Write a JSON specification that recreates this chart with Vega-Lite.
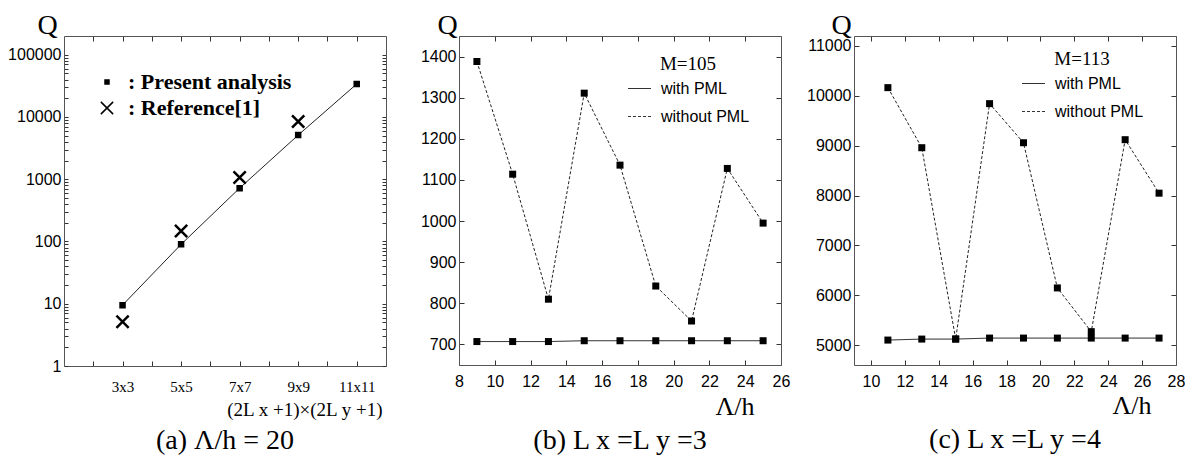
{
  "$schema": "https://vega.github.io/schema/vega-lite/v6.json",
  "padding": {"left": 7, "top": 11, "right": 0, "bottom": 0},
  "background": "white",
  "bounds": "flush",
  "spacing": 73,
  "resolve": {"scale": {"strokeDash": "independent", "shape": "independent", "size": "independent"},
              "legend": {"strokeDash": "independent", "shape": "independent", "size": "independent"}},
  "config": {
    "view": {"stroke": null},
    "axis": {
      "grid": false, "domainColor": "#555", "domainWidth": 1, "tickColor": "#333", "tickWidth": 1,
      "labelColor": "black", "labelFont": "Liberation Sans", "labelFontSize": 16,
      "labelFlush": false, "labelOverlap": false, "format": "d",
      "titleFont": "Liberation Serif", "titleFontWeight": "normal", "titleColor": "black"
    },
    "legend": {"padding": 0, "labelColor": "black", "titleColor": "black", "labelLimit": 0},
    "title": {"font": "Liberation Serif", "fontSize": 28, "fontWeight": "normal", "color": "black"}
  },
  "hconcat": [
    {
      "width": 322, "height": 330,
      "title": {"text": "(a) Λ/h = 20", "orient": "bottom", "offset": 8},
      "data": {"values": [
        {"series": "Present analysis", "n": 3, "q": 9.5},
        {"series": "Present analysis", "n": 5, "q": 90},
        {"series": "Present analysis", "n": 7, "q": 720},
        {"series": "Present analysis", "n": 9, "q": 5120},
        {"series": "Present analysis", "n": 11, "q": 33900},
        {"series": "Reference[1]", "n": 3, "q": 5.15},
        {"series": "Reference[1]", "n": 5, "q": 148},
        {"series": "Reference[1]", "n": 7, "q": 1070},
        {"series": "Reference[1]", "n": 9, "q": 8500}
      ]},
      "resolve": {"axis": {"x": "independent", "y": "independent"}},
      "layer": [
        {
          "transform": [{"filter": "datum.series == 'Present analysis'"}],
          "mark": {"type": "line", "color": "#222", "strokeWidth": 1},
          "encoding": {
            "x": {"field": "n", "type": "quantitative",
              "scale": {"domain": [1, 12], "nice": false, "zero": false},
              "axis": {"orient": "bottom", "values": [2,3,4,5,6,7,8,9,10,11], "tickSize": -5,
                "labelFont": "Liberation Serif", "labelFontSize": 15, "labelPadding": 18,
                "labelExpr": "datum.value % 2 == 1 ? datum.value + 'x' + datum.value : ''",
                "title": "(2L x +1)×(2L y +1)", "titleFontSize": 19, "titleX": 318, "titleY": 49,
                "titleAlign": "right", "titleBaseline": "alphabetic", "titleAngle": 0}},
            "y": {"field": "q", "type": "quantitative",
              "scale": {"type": "log", "domain": [1, 200000], "nice": false},
              "axis": {"orient": "left",
                "values": [1,2,3,4,5,6,7,8,9,10,20,30,40,50,60,70,80,90,100,200,300,400,500,600,700,800,900,1000,2000,3000,4000,5000,6000,7000,8000,9000,10000,20000,30000,40000,50000,60000,70000,80000,90000,100000],
                "tickSize": -4, "labelPadding": 7,
                "labelExpr": "indexof([1,10,100,1000,10000,100000], datum.value) >= 0 ? format(datum.value, 'd') : ''",
                "title": "Q", "titleAngle": 0, "titleX": -17, "titleY": -3, "titleAlign": "center",
                "titleBaseline": "alphabetic", "titleFontSize": 28}}
          }
        },
        {
          "mark": {"type": "point", "filled": true, "fill": "black", "stroke": "black", "strokeWidth": 2.5, "opacity": 1},
          "encoding": {
            "x": {"field": "n", "type": "quantitative",
              "axis": {"orient": "top", "values": [2,3,4,5,6,7,8,9,10,11], "tickSize": -5, "labels": false, "title": null}},
            "y": {"field": "q", "type": "quantitative",
              "axis": {"orient": "right",
                "values": [1,2,3,4,5,6,7,8,9,10,20,30,40,50,60,70,80,90,100,200,300,400,500,600,700,800,900,1000,2000,3000,4000,5000,6000,7000,8000,9000,10000,20000,30000,40000,50000,60000,70000,80000,90000,100000],
                "tickSize": -4, "labels": false, "title": null}},
            "shape": {"field": "series", "type": "nominal",
              "scale": {"domain": ["Present analysis", "Reference[1]"], "range": ["square", "M-1,-1L1,1M-1,1L1,-1"]},
              "legend": {"title": null, "orient": "none", "legendX": 32, "legendY": 35,
                "labelFont": "Liberation Serif", "labelFontSize": 22, "labelFontWeight": "bold", "labelLimit": 0,
                "labelOffset": 10, "rowPadding": 4, "labelExpr": "':  ' + datum.label",
                "encode": {"symbols": {"update": {"fill": {"value": "black"}, "stroke": {"value": "black"}, "strokeWidth": {"value": 2.5}, "opacity": {"value": 1}}}}}},
            "size": {"field": "series", "type": "nominal",
              "scale": {"domain": ["Present analysis", "Reference[1]"], "range": [16, 150]},
              "legend": {"title": null, "orient": "none", "legendX": 32, "legendY": 35,
                "labelFont": "Liberation Serif", "labelFontSize": 22, "labelFontWeight": "bold", "labelLimit": 0,
                "labelOffset": 10, "rowPadding": 4, "labelExpr": "':  ' + datum.label",
                "encode": {"symbols": {"update": {"fill": {"value": "black"}, "stroke": {"value": "black"}, "strokeWidth": {"value": 2.5}, "opacity": {"value": 1}}}}}}
          }
        }
      ]
    },
    {
      "width": 322, "height": 329,
      "title": {"text": "(b) L x =L y =3", "orient": "bottom", "offset": 8},
      "data": {"values": [
        {"series": "without PML", "x": 9, "q": 1388},
        {"series": "without PML", "x": 11, "q": 1114},
        {"series": "without PML", "x": 13, "q": 810},
        {"series": "without PML", "x": 15, "q": 1311},
        {"series": "without PML", "x": 17, "q": 1136},
        {"series": "without PML", "x": 19, "q": 842},
        {"series": "without PML", "x": 21, "q": 757},
        {"series": "without PML", "x": 23, "q": 1128},
        {"series": "without PML", "x": 25, "q": 995},
        {"series": "with PML", "x": 9, "q": 707},
        {"series": "with PML", "x": 11, "q": 707},
        {"series": "with PML", "x": 13, "q": 707},
        {"series": "with PML", "x": 15, "q": 709},
        {"series": "with PML", "x": 17, "q": 709},
        {"series": "with PML", "x": 19, "q": 709},
        {"series": "with PML", "x": 21, "q": 709},
        {"series": "with PML", "x": 23, "q": 709},
        {"series": "with PML", "x": 25, "q": 709}
      ]},
      "resolve": {"axis": {"x": "independent", "y": "independent"}},
      "layer": [
        {
          "mark": {"type": "line", "color": "#222", "strokeWidth": 1},
          "encoding": {
            "x": {"field": "x", "type": "quantitative",
              "scale": {"domain": [8, 26], "nice": false, "zero": false},
              "axis": {"orient": "bottom", "values": [8,10,12,14,16,18,20,22,24,26], "tickSize": -5, "labelPadding": 13,
                "title": "Λ/h", "titleFontSize": 26, "titleX": 295, "titleY": 49,
                "titleAlign": "right", "titleBaseline": "alphabetic", "titleAngle": 0}},
            "y": {"field": "q", "type": "quantitative",
              "scale": {"domain": [650, 1450], "nice": false, "zero": false},
              "axis": {"orient": "left", "values": [700,800,900,1000,1100,1200,1300,1400], "tickSize": -5, "labelPadding": 8,
                "title": "Q", "titleAngle": 0, "titleX": -12, "titleY": -3, "titleAlign": "center",
                "titleBaseline": "alphabetic", "titleFontSize": 28}},
            "strokeDash": {"field": "series", "type": "nominal",
              "scale": {"domain": ["with PML", "without PML"], "range": [[1, 0], [3, 2]]},
              "legend": {"title": "M=105", "orient": "none", "legendX": 168, "legendY": 19,
                "titleFont": "Liberation Serif", "titleFontSize": 19, "titleFontWeight": "normal",
                "titleAnchor": "middle", "titlePadding": 2,
                "labelFont": "Liberation Sans", "labelFontSize": 16, "labelOffset": 9, "rowPadding": 7,
                "symbolType": "stroke", "symbolSize": 529, "symbolStrokeColor": "#333", "symbolStrokeWidth": 1.2}}
          }
        },
        {
          "mark": {"type": "point", "shape": "square", "filled": true, "color": "black", "size": 49, "opacity": 1},
          "encoding": {
            "x": {"field": "x", "type": "quantitative",
              "axis": {"orient": "top", "values": [8,10,12,14,16,18,20,22,24,26], "tickSize": -5, "labels": false, "title": null}},
            "y": {"field": "q", "type": "quantitative",
              "axis": {"orient": "right", "values": [700,800,900,1000,1100,1200,1300,1400], "tickSize": -5, "labels": false, "title": null}}
          }
        }
      ]
    },
    {
      "width": 322, "height": 329,
      "title": {"text": "(c) L x =L y =4", "orient": "bottom", "offset": 8},
      "data": {"values": [
        {"series": "without PML", "x": 11, "q": 10164},
        {"series": "without PML", "x": 13, "q": 8959},
        {"series": "without PML", "x": 15, "q": 5122},
        {"series": "without PML", "x": 17, "q": 9843},
        {"series": "without PML", "x": 19, "q": 9059},
        {"series": "without PML", "x": 21, "q": 6146},
        {"series": "without PML", "x": 23, "q": 5269},
        {"series": "without PML", "x": 25, "q": 9120},
        {"series": "without PML", "x": 27, "q": 8047},
        {"series": "with PML", "x": 11, "q": 5100},
        {"series": "with PML", "x": 13, "q": 5120},
        {"series": "with PML", "x": 15, "q": 5120},
        {"series": "with PML", "x": 17, "q": 5140},
        {"series": "with PML", "x": 19, "q": 5140},
        {"series": "with PML", "x": 21, "q": 5140},
        {"series": "with PML", "x": 23, "q": 5140},
        {"series": "with PML", "x": 25, "q": 5140},
        {"series": "with PML", "x": 27, "q": 5140}
      ]},
      "resolve": {"axis": {"x": "independent", "y": "independent"}},
      "layer": [
        {
          "mark": {"type": "line", "color": "#222", "strokeWidth": 1},
          "encoding": {
            "x": {"field": "x", "type": "quantitative",
              "scale": {"domain": [9, 28], "nice": false, "zero": false},
              "axis": {"orient": "bottom", "values": [10,12,14,16,18,20,22,24,26,28], "tickSize": -5, "labelPadding": 13,
                "title": "Λ/h", "titleFontSize": 26, "titleX": 297, "titleY": 48,
                "titleAlign": "right", "titleBaseline": "alphabetic", "titleAngle": 0}},
            "y": {"field": "q", "type": "quantitative",
              "scale": {"domain": [4600, 11200], "nice": false, "zero": false},
              "axis": {"orient": "left", "values": [5000,6000,7000,8000,9000,10000,11000], "tickSize": -5, "labelPadding": 8,
                "title": "Q", "titleAngle": 0, "titleX": -13, "titleY": -3, "titleAlign": "center",
                "titleBaseline": "alphabetic", "titleFontSize": 28}},
            "strokeDash": {"field": "series", "type": "nominal",
              "scale": {"domain": ["with PML", "without PML"], "range": [[1, 0], [3, 2]]},
              "legend": {"title": "M=113", "orient": "none", "legendX": 167, "legendY": 14,
                "titleFont": "Liberation Serif", "titleFontSize": 19, "titleFontWeight": "normal",
                "titleAnchor": "middle", "titlePadding": 2,
                "labelFont": "Liberation Sans", "labelFontSize": 16, "labelOffset": 9, "rowPadding": 7,
                "symbolType": "stroke", "symbolSize": 529, "symbolStrokeColor": "#333", "symbolStrokeWidth": 1.2}}
          }
        },
        {
          "mark": {"type": "point", "shape": "square", "filled": true, "color": "black", "size": 49, "opacity": 1},
          "encoding": {
            "x": {"field": "x", "type": "quantitative",
              "axis": {"orient": "top", "values": [10,12,14,16,18,20,22,24,26,28], "tickSize": -5, "labels": false, "title": null}},
            "y": {"field": "q", "type": "quantitative",
              "axis": {"orient": "right", "values": [5000,6000,7000,8000,9000,10000,11000], "tickSize": -5, "labels": false, "title": null}}
          }
        }
      ]
    }
  ]
}
